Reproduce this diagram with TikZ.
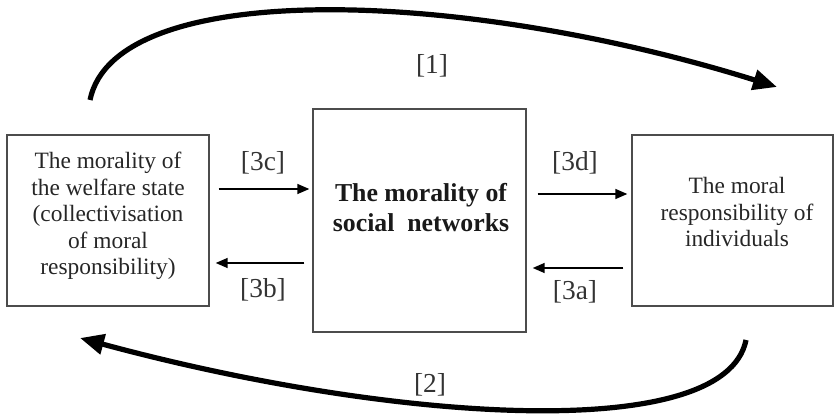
\documentclass[tikz,border=0pt]{standalone}
\usepackage{fontspec}
\setmainfont{Liberation Serif}
\usetikzlibrary{arrows.meta}
\begin{document}
\begin{tikzpicture}[x=0.5pt,y=-0.5pt,
  boxnode/.style={draw=black!70,line width=0.7pt,rectangle,inner sep=0pt},
  boxtext/.style={align=center,text=black!85,inner sep=0pt,font=\fontsize{11.7}{13.3}\selectfont},
  midtext/.style={align=center,text=black!90,inner sep=0pt,font=\fontsize{12.9}{15}\selectfont\bfseries},
  lab/.style={text=black!80,inner sep=0pt,font=\fontsize{13.7}{15}\selectfont},
  small/.style={line width=0.75pt,-{Triangle[length=6pt,width=5pt]}},
  big/.style={line width=2.6pt,-{Triangle[length=12pt,width=10pt]}}]
\useasboundingbox (0,0) rectangle (834,416);
% boxes
\node[boxnode,minimum width=101pt,minimum height=85.5pt] (L) at (108,220.5) {};
\node[boxnode,minimum width=106.5pt,minimum height=111.5pt] (C) at (419.5,220.5) {};
\node[boxnode,minimum width=100.5pt,minimum height=85.5pt] (R) at (732.5,220.5) {};
% texts
\node[boxtext] (Lt) at (108,216) {The morality of\\the welfare state\\(collectivisation\\of moral\\responsibility)};
\node[midtext] (Ct) at (421,208) {The morality of\\social\ \ networks};
\node[boxtext] (Rt) at (737,212) {The moral\\responsibility of\\individuals};
% small arrows
\draw[small] ([xshift=4.5pt,yshift=15.75pt]L.east) -- ([xshift=-1.5pt,yshift=15.75pt]C.west);
\draw[small] ([xshift=-4pt,yshift=-21.25pt]C.west) -- ([xshift=3pt,yshift=-21.25pt]L.east);
\draw[small] ([xshift=5.5pt,yshift=13.25pt]C.east) -- ([xshift=-2pt,yshift=13.25pt]R.west);
\draw[small] ([xshift=-4pt,yshift=-23.75pt]R.west) -- ([xshift=3pt,yshift=-23.75pt]C.east);
% labels
\node[lab] (l3c) at (263,163) {[3c]};
\node[lab] (l3b) at (263,290) {[3b]};
\node[lab] (l3d) at (575,163) {[3d]};
\node[lab] (l3a) at (575,292) {[3a]};
\node[lab] (l1) at (432,66) {[1]};
\node[lab] (l2) at (430,385) {[2]};
% big arrows
\coordinate (t1s) at (90,100);
\coordinate (t1e) at (777,87);
\coordinate (b2s) at (746,340);
\coordinate (b2e) at (80,338);
\draw[big] (t1s) .. controls (115,-22) and (460,-12) .. (t1e);
\draw[big] (b2s) .. controls (725,445) and (390,422) .. (b2e);
\end{tikzpicture}
\end{document}
